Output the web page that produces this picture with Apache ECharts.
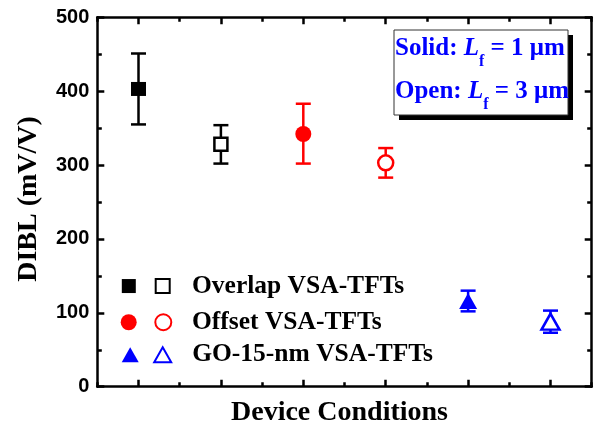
<!DOCTYPE html>
<html>
<head>
<meta charset="utf-8">
<script src="https://cdn.jsdelivr.net/npm/echarts@6/dist/echarts.min.js"></script>
<style>
html, body { margin: 0; padding: 0; background: #fff; }
#chart { width: 599px; height: 425px; }
</style>
</head>
<body>
<div id="chart"></div>
<script>
// Device conditions: three VSA-TFT structures, each at Lf = 1 um (solid) and Lf = 3 um (open)
const categories = [
  'Overlap, Lf = 1 μm', 'Overlap, Lf = 3 μm',
  'Offset, Lf = 1 μm', 'Offset, Lf = 3 μm',
  'GO-15-nm, Lf = 1 μm', 'GO-15-nm, Lf = 3 μm'
];
// DIBL (mV/V) and error-bar half ranges below / above the mean
const dibl    = [403, 328, 342, 303, 116, 88];
const errLow  = [48, 26, 40, 20, 14, 15];
const errHigh = [48, 26, 41, 20, 14, 15];
// Legend row captions, one per structure
const groupNames = ['Overlap VSA-TFTs', 'Offset VSA-TFTs', 'GO-15-nm VSA-TFTs'];
// Y axis range and step
const yMin = 0, yMax = 500, yStep = 100;

const BLACK = '#000000', RED = '#ff0000', BLUE = '#0000ff';
const markColors = [BLACK, BLACK, RED, RED, BLUE, BLUE];
const markerLook = [
  { symbol: 'rect',     size: [15, 14], open: false },
  { symbol: 'rect',     size: [13, 13], open: true },
  { symbol: 'circle',   size: 16,       open: false },
  { symbol: 'circle',   size: 15,       open: true },
  { symbol: 'triangle', size: [18, 16], open: false },
  { symbol: 'triangle', size: [18, 16], open: true }
];

const SERIF = 'Liberation Serif';
const SANS = 'Liberation Sans';
const frameLine = { show: true, lineStyle: { color: '#000', width: 2.5 } };

function catAxis(position, aligned, showLine, extra) {
  return Object.assign({
    type: 'category',
    data: categories,
    position: position,
    boundaryGap: true,
    axisLine: showLine ? frameLine : { show: false },
    axisTick: {
      show: true, inside: true, interval: 0, alignWithLabel: aligned,
      length: aligned ? 7 : 4.5,
      lineStyle: { color: '#000', width: 2.5 }
    },
    axisLabel: { show: false },
    splitLine: { show: false }
  }, extra || {});
}

function valAxis(position, withLabels, extra) {
  return Object.assign({
    type: 'value',
    position: position,
    min: yMin, max: yMax, interval: yStep,
    axisLine: frameLine,
    axisTick: { show: true, inside: true, length: 7, lineStyle: { color: '#000', width: 2.5 } },
    minorTick: { show: true, splitNumber: 2, length: 4.5, lineStyle: { color: '#000', width: 2.5 } },
    splitLine: { show: false },
    axisLabel: withLabels
      ? { show: true, fontFamily: SANS, fontWeight: 'bold', fontSize: 20, color: '#000', margin: 8 }
      : { show: false }
  }, extra || {});
}

const scatterSeries = categories.map((name, i) => {
  const look = markerLook[i];
  return {
    type: 'scatter',
    name: name,
    xAxisIndex: 0, yAxisIndex: 0,
    symbol: look.symbol,
    symbolSize: look.size,
    z: 5,
    itemStyle: look.open
      ? { color: '#fff', borderColor: markColors[i], borderWidth: 2.5, opacity: 1 }
      : { color: markColors[i], borderWidth: 0, opacity: 1 },
    data: [[i, dibl[i]]]
  };
});

const errorSeries = {
  type: 'custom',
  xAxisIndex: 0, yAxisIndex: 0,
  z: 3,
  silent: true,
  encode: { x: 0, y: [1, 2] },
  data: categories.map((c, i) => [i, dibl[i] - errLow[i], dibl[i] + errHigh[i]]),
  renderItem: function (params, api) {
    const i = api.value(0);
    const lo = api.coord([i, api.value(1)]);
    const hi = api.coord([i, api.value(2)]);
    const half = 7.5;
    const st = { stroke: markColors[i], lineWidth: 2.5 };
    return {
      type: 'group',
      children: [
        { type: 'line', shape: { x1: lo[0], y1: lo[1], x2: hi[0], y2: hi[1] }, style: st },
        { type: 'line', shape: { x1: lo[0] - half, y1: lo[1], x2: lo[0] + half, y2: lo[1] }, style: st },
        { type: 'line', shape: { x1: hi[0] - half, y1: hi[1], x2: hi[0] + half, y2: hi[1] }, style: st }
      ]
    };
  }
};

// One legend per structure: solid icon, open icon, then the caption
const LEGEND_FONT = 25.5;
const legendRows = [
  { left: 121.8, centerY: 285.8, w: 14, h: 14, gap: 18.9, pad: 17.3 },
  { left: 120.7, centerY: 322.0, w: 16, h: 16, gap: 17.6, pad: 15.7 },
  { left: 121.7, centerY: 354.5, w: 17, h: 15, gap: 14.5, pad: 16.0 }
];
const legends = legendRows.map((row, r) => ({
  show: true,
  orient: 'horizontal',
  left: row.left,
  top: row.centerY - LEGEND_FONT / 2,
  padding: 0,
  itemGap: row.gap,
  itemWidth: row.w,
  itemHeight: row.h,
  selectedMode: false,
  data: [categories[2 * r], categories[2 * r + 1]],
  formatter: function (name) {
    return name === categories[2 * r + 1] ? groupNames[r] : '';
  },
  textStyle: {
    fontFamily: SERIF, fontWeight: 'bold', fontSize: LEGEND_FONT, color: '#000',
    padding: [0, 0, 0, row.pad]
  }
}));

const boxRich = {
  b: { fontFamily: SERIF, fontWeight: 'bold', fontSize: 25, lineHeight: 43, fill: BLUE },
  i: { fontFamily: SERIF, fontWeight: 'bold', fontStyle: 'italic', fontSize: 25, lineHeight: 43, fill: BLUE },
  s: { fontFamily: SERIF, fontWeight: 'bold', fontSize: 16, lineHeight: 21, verticalAlign: 'bottom', fill: BLUE }
};

const option = {
  backgroundColor: '#ffffff',
  animation: false,
  grid: { left: 97.3, right: 7.3, top: 17.3, bottom: 38.3, containLabel: false, outerBoundsMode: 'none' },
  xAxis: [
    catAxis('bottom', true, true, {
      name: 'Device Conditions',
      nameLocation: 'middle',
      nameGap: 12,
      nameTextStyle: { fontFamily: SERIF, fontWeight: 'bold', fontSize: 28, color: '#000', padding: [0, 10, 0, 0] }
    }),
    catAxis('bottom', false, false),
    catAxis('top', true, true),
    catAxis('top', false, false)
  ],
  yAxis: [
    valAxis('left', true, {
      name: 'DIBL (mV/V)',
      nameLocation: 'middle',
      nameGap: 55,
      nameRotate: 90,
      nameTextStyle: { fontFamily: SERIF, fontWeight: 'bold', fontSize: 28, color: '#000', padding: [0, 0, 0, 6] }
    }),
    valAxis('right', false)
  ],
  legend: legends,
  series: [errorSeries].concat(scatterSeries),
  graphic: [
    { type: 'rect', z: 10, shape: { x: 399, y: 35, width: 174, height: 85 }, style: { fill: '#000' } },
    { type: 'rect', z: 11, shape: { x: 394, y: 30, width: 174, height: 85 }, style: { fill: '#fff', stroke: '#333', lineWidth: 1 } },
    {
      type: 'text', z: 12, x: 395, y: 27,
      style: {
        text: '{b|Solid: }{i|L}{s|f}{b| = 1 μm}\n{b|Open: }{i|L}{s|f}{b| = 3 μm}',
        rich: boxRich,
        align: 'left',
        verticalAlign: 'top'
      }
    }
  ]
};

const chart = echarts.init(document.getElementById('chart'), null, { renderer: 'canvas' });
chart.setOption(option);
</script>
</body>
</html>
